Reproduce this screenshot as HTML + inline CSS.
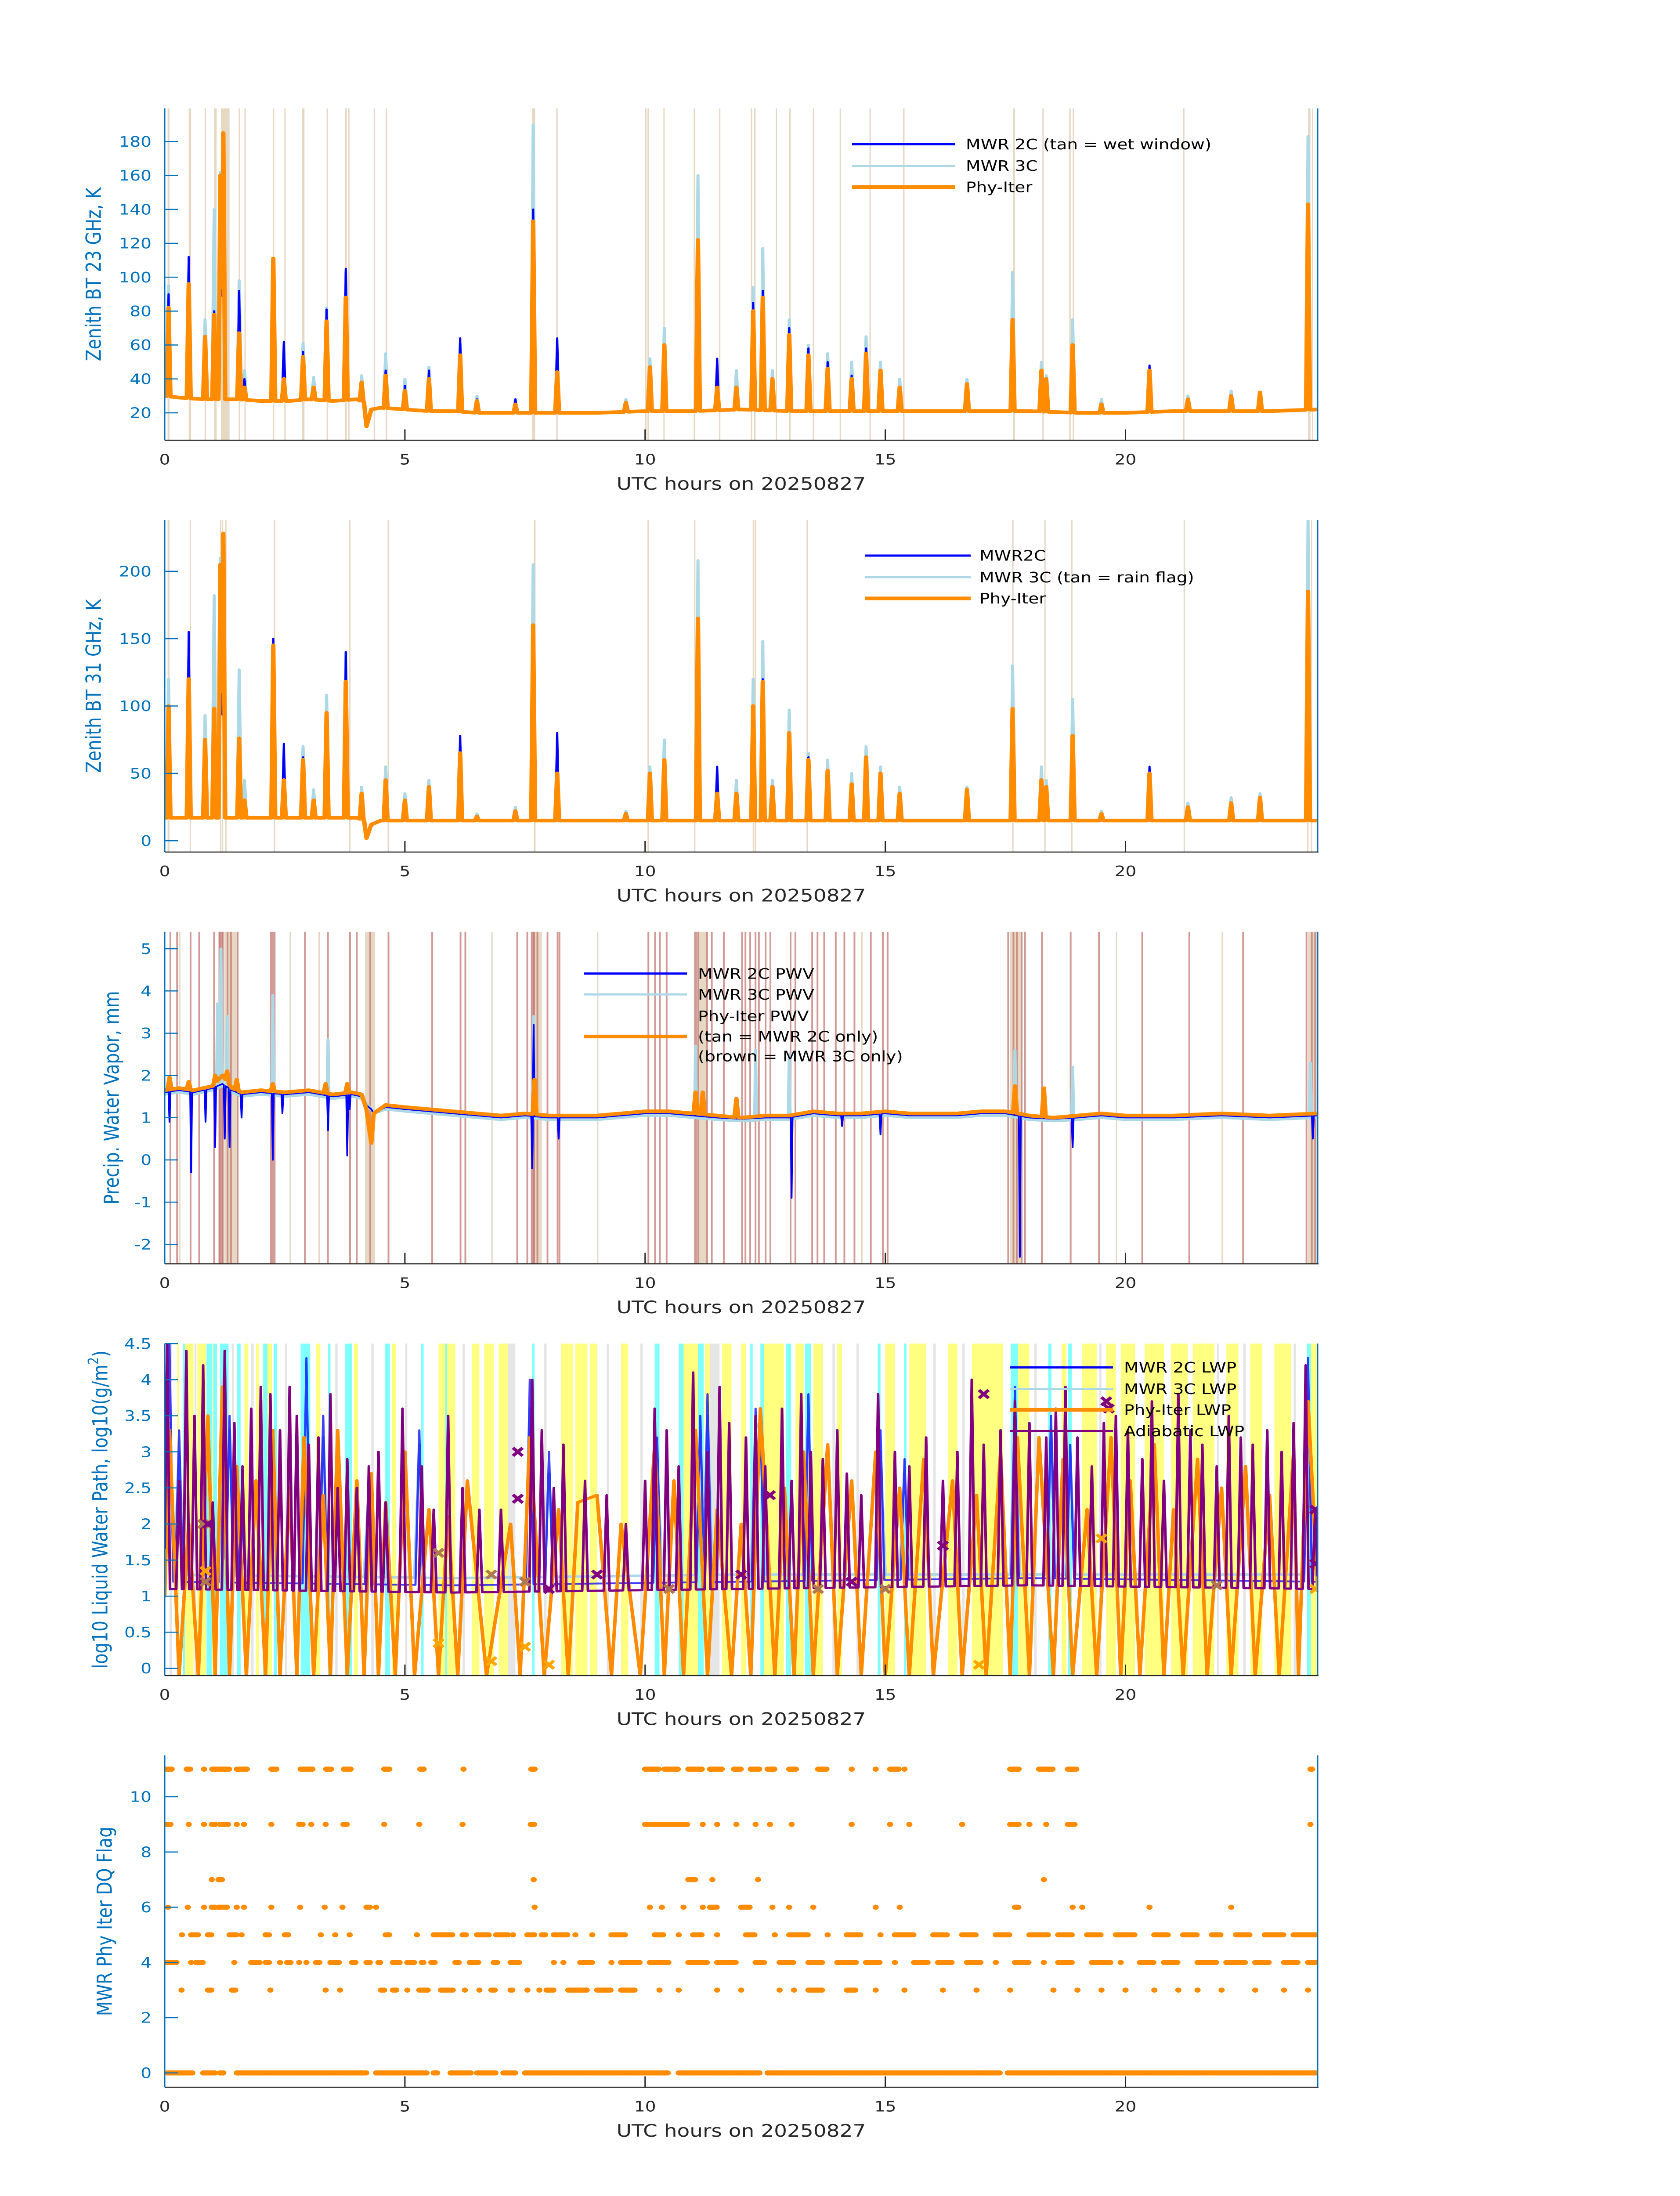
<!DOCTYPE html>
<html><head><meta charset="utf-8"><style>
html,body{margin:0;padding:0;background:#fff;width:100%;height:100%;overflow:hidden}
svg{display:block;position:absolute;left:0;top:0;width:100vw;height:100vh}
text{font-family:"DejaVu Sans","Liberation Sans",sans-serif}
</style></head><body>
<svg id="fig" xmlns="http://www.w3.org/2000/svg" viewBox="0 0 3825 6000" preserveAspectRatio="none">
<rect x="0" y="0" width="3825" height="6000" fill="#fff"/>
</svg>
<script>
// ---------- shared data ----------
const pkT=[0.08,0.5,0.84,1.03,1.16,1.22,1.55,1.66,2.26,2.48,2.88,3.1,3.37,3.77,4.1,4.6,5.0,5.5,6.15,6.5,7.3,7.67,8.17,9.6,10.1,10.4,11.1,11.5,11.9,12.25,12.45,12.65,13.0,13.4,13.8,14.3,14.6,14.9,15.3,16.7,17.65,18.25,18.35,18.9,19.5,20.5,21.3,22.2,22.8,23.8];
// panel 1: 23 GHz
const bt23T=[0,0.3,0.8,1.5,2.0,2.6,3.0,3.5,4.0,4.15,4.2,4.3,4.5,5.0,5.5,6.0,6.5,7.0,8,9,10,11,12,13,14,15,16,17,18,19,20,21,22,23,24];
const bt23Base=[30,29,28,28,27,27,28,27,28,26,12,22,23,22,21,21,20,20,20,20,21,21,22,21,21,21,21,21,21,20,20,21,21,21,22];
const bt23Orange=[82,96,65,78,160,185,67,35,111,40,53,35,74,88,38,42,33,40,54,27,25,133,44,26,47,60,122,35,35,80,88,40,66,54,46,40,55,45,35,37,75,45,40,60,25,45,28,30,32,143];
const bt23_2C=[90,112,65,80,160,150,92,40,111,62,56,35,81,105,38,45,36,45,64,28,28,140,64,26,47,60,122,52,35,85,92,40,70,58,50,42,58,45,35,37,75,45,40,60,25,48,28,30,32,143];
const bt23_3C=[95,103,75,140,162,170,98,45,110,42,61,41,82,103,42,55,40,47,60,30,28,190,58,28,52,70,160,38,45,94,117,45,75,60,55,50,65,50,40,40,103,50,42,75,28,45,30,33,32,183];
const tan23=[[0.06,0.1],[0.5,0.55],[0.83,0.86],[1.03,1.08],[1.17,1.35],[1.54,1.57],[1.66,1.68],[2.25,2.28],[2.49,2.5],[2.86,2.91],[3.37,3.39],[3.75,3.79],[3.82,3.84],[4.35,4.36],[4.6,4.63],[7.65,7.71],[8.15,8.18],[10.0,10.03],[10.05,10.07],[10.38,10.4],[11.01,11.04],[11.54,11.56],[12.2,12.23],[12.27,12.3],[12.72,12.74],[13.0,13.03],[13.49,13.51],[14.05,14.07],[14.67,14.69],[15.37,15.4],[17.66,17.7],[18.27,18.3],[18.83,18.86],[18.9,18.92],[21.2,21.22],[23.8,23.85],[23.88,23.9]];
// panel 2: 31 GHz
const bt31T=[0,0.5,1.5,2,3,4,4.15,4.2,4.3,4.5,5,6,8,10,12,14,16,18,20,22,24];
const bt31Base=[17,17,17,17,17,17,15,2,12,15,15,15,15,15,15,15,15,15,15,15,15];
const bt31Orange=[100,120,75,98,205,228,76,30,145,45,60,30,95,118,35,45,30,40,65,18,22,160,50,20,50,60,165,35,35,100,118,40,80,60,52,42,62,50,35,38,98,45,40,78,20,50,25,28,32,185];
const bt31_2C=[100,155,75,98,205,170,76,30,150,72,62,30,95,140,35,45,30,40,78,18,22,160,80,20,50,60,165,55,35,100,120,40,80,62,52,42,62,50,35,38,98,45,40,78,20,55,25,28,32,185];
const bt31_3C=[120,135,93,182,210,200,127,45,145,40,70,38,108,140,40,55,35,45,70,20,25,205,60,22,55,75,208,40,45,120,148,45,97,65,60,50,70,55,40,40,130,55,45,105,22,50,28,32,35,240];
const tan31=[[0.06,0.1],[0.52,0.54],[1.15,1.16],[1.19,1.2],[1.26,1.27],[2.27,2.28],[3.84,3.85],[4.64,4.65],[7.68,7.72],[10.05,10.06],[11.02,11.03],[12.24,12.25],[12.28,12.29],[13.36,13.38],[17.64,17.67],[18.31,18.32],[18.87,18.88],[21.21,21.22],[23.78,23.81],[23.86,23.87]];
// panel 3: PWV
const pwvT=[0,0.3,0.6,1.0,1.2,1.4,1.6,2.0,2.5,3.0,3.5,3.9,4.1,4.2,4.3,4.35,4.6,5.0,5.5,6.0,6.5,7.0,7.5,8.0,8.5,9,9.5,10,10.5,11,11.5,12,12.5,13,13.5,14,14.5,15,15.5,16,16.5,17,17.5,18,18.5,19,19.5,20,20.5,21,22,23,24];
const pwvOrange=[1.65,1.7,1.65,1.75,2.0,1.7,1.6,1.65,1.6,1.65,1.55,1.6,1.55,1.2,0.4,1.1,1.3,1.25,1.2,1.15,1.1,1.05,1.1,1.05,1.05,1.05,1.1,1.15,1.15,1.1,1.05,1.0,1.05,1.05,1.15,1.1,1.1,1.15,1.1,1.1,1.1,1.15,1.15,1.05,1.0,1.05,1.1,1.05,1.05,1.05,1.1,1.05,1.1];
const pwv2C=[1.6,1.65,1.6,1.7,1.8,1.65,1.55,1.6,1.55,1.6,1.5,1.55,1.5,1.3,1.2,1.1,1.25,1.2,1.15,1.1,1.05,1.0,1.05,1.0,1.0,1.0,1.05,1.1,1.1,1.05,1.0,0.97,1.0,1.0,1.1,1.05,1.05,1.1,1.05,1.05,1.05,1.1,1.1,1.0,0.97,1.0,1.05,1.0,1.0,1.0,1.05,1.0,1.05];
const pwv3C=[1.55,1.6,1.55,1.65,1.75,1.6,1.5,1.55,1.5,1.55,1.45,1.5,1.45,1.35,1.2,1.1,1.2,1.15,1.1,1.05,1.0,0.95,1.0,0.95,0.95,0.95,1.0,1.05,1.05,1.0,0.95,0.92,0.95,0.95,1.05,1.0,1.0,1.05,1.0,1.0,1.0,1.05,1.05,0.95,0.92,0.95,1.0,0.95,0.95,0.95,1.0,0.95,1.0];
const pwvOrangeSpkT=[0.1,0.5,1.05,1.3,1.5,2.25,3.35,3.8,7.7,11.05,11.2,11.9,17.7,18.3];
const pwvOrangeSpkV=[1.95,1.85,2.0,2.1,1.9,1.8,1.8,1.8,1.9,1.6,1.6,1.45,1.75,1.7];
const pwv2CSpkT=[0.1,0.55,0.85,1.05,1.25,1.35,1.6,2.25,2.45,3.4,3.8,3.85,7.65,7.68,8.2,13.05,14.1,14.9,17.8,18.9,23.9];
const pwv2CSpkV=[0.9,-0.3,0.9,0.3,0.5,0.3,1.0,0.0,1.1,0.7,0.1,1.2,-0.2,3.2,0.5,-0.9,0.8,0.6,-2.3,0.3,0.5];
const pwv3CSpkT=[1.1,1.17,1.3,2.25,3.4,7.68,11.05,12.3,13.0,17.7,18.9,23.85];
const pwv3CSpkV=[3.7,5.0,3.4,3.9,2.85,3.4,2.7,2.6,2.5,2.6,2.2,2.3];
const brownLines=[0.1,0.24,0.52,0.7,1.01,1.12,1.19,1.29,1.36,1.5,2.27,2.9,3.38,3.84,3.98,4.26,4.64,5.55,6.14,6.24,7.32,7.53,7.67,7.74,7.95,8.16,8.2,10.05,10.19,10.29,10.43,11.09,11.27,11.37,11.62,12.0,12.07,12.17,12.28,12.35,12.49,12.59,13.01,13.11,13.46,13.57,13.71,13.95,14.13,14.34,14.68,14.93,15.03,17.54,17.65,17.72,17.82,17.89,18.24,18.84,19.43,20.33,21.31,22.43,23.75,23.86,23.93,24.0];
const brownWide=[[1.13,1.22],[2.19,2.27],[7.62,7.7],[11.02,11.08]];
const tanPwv=[[1.24,1.52],[4.17,4.38],[7.7,7.85],[11.08,11.3],[17.6,17.85],[23.8,24],[0.3,0.32],[2.6,2.62],[3.2,3.22],[6.8,6.82],[9.0,9.02],[14.5,14.52],[19.8,19.82],[22.0,22.02]];
// panel 4: LWP
const cyanBands=[[0.38,0.42],[0.87,0.98],[1.01,1.09],[1.15,1.33],[1.5,1.58],[2.05,2.14],[2.27,2.34],[2.83,3.03],[3.4,3.45],[3.75,3.9],[4.59,4.69],[5.34,5.39],[5.84,5.87],[7.65,7.7],[10.2,10.3],[10.7,10.8],[11.1,11.22],[12.19,12.24],[12.4,12.47],[12.93,13.04],[13.33,13.45],[14.84,14.9],[15.39,15.44],[17.61,17.76],[18.39,18.46],[18.8,18.88],[23.78,23.86]];
const yellowBands=[[0.26,0.29],[0.42,0.6],[0.68,0.86],[0.9,1.0],[1.21,1.24],[1.66,1.74],[1.9,1.96],[2.04,2.23],[3.15,3.24],[3.94,4.02],[4.73,4.82],[5.7,6.05],[6.4,6.55],[6.65,6.85],[6.95,7.15],[8.25,8.5],[8.55,8.8],[8.85,9.0],[9.5,9.65],[10.8,11.1],[11.25,11.35],[11.6,11.8],[12.0,12.1],[12.48,12.89],[13.13,13.3],[13.5,13.7],[14.0,14.1],[15.0,15.2],[15.5,15.85],[16.3,16.5],[16.8,17.45],[17.76,18.0],[18.67,18.77],[19.1,19.4],[19.6,19.8],[19.9,20.2],[20.4,20.8],[20.95,21.3],[21.4,21.85],[22.1,22.35],[22.6,22.85],[23.1,23.45],[23.86,24]];
const greyBands=[[0.1,0.15],[0.62,0.66],[1.4,1.44],[1.8,1.85],[2.5,2.55],[3.55,3.6],[4.3,4.35],[5.0,5.05],[6.2,6.25],[7.15,7.3],[7.9,7.95],[9.2,9.25],[9.9,9.95],[11.35,11.55],[12.7,12.75],[13.9,13.95],[14.4,14.45],[16.0,16.05],[16.6,16.65],[18.1,18.15],[19.45,19.5],[21.9,21.95],[22.45,22.5],[23.5,23.55]];
const adiabBaseT=[0,6,12,18,24];
const adiabBase=[1.1,1.05,1.1,1.15,1.1];
const adiabPkT=[0.05,0.3,0.45,0.62,0.8,1.0,1.25,1.45,1.62,1.8,2.0,2.2,2.4,2.6,2.75,3.0,3.2,3.45,3.6,3.8,4.0,4.25,4.45,4.6,4.95,5.35,5.6,5.9,6.2,6.55,7.0,7.65,7.85,8.1,8.3,8.75,9.2,9.6,10.0,10.2,10.45,10.7,11.0,11.3,11.55,11.75,12.1,12.3,12.5,12.85,13.05,13.25,13.45,13.7,14.0,14.2,14.5,14.85,15.2,15.5,15.85,16.2,16.5,16.8,17.05,17.4,17.7,18.0,18.35,18.55,18.75,19.0,19.3,19.55,19.8,20.05,20.35,20.55,20.8,21.1,21.35,21.6,21.9,22.15,22.4,22.65,22.95,23.25,23.5,23.75,23.95];
const adiabPkV=[4.5,2.6,4.4,3.5,4.2,2.3,4.4,3.4,2.8,3.6,3.9,3.8,3.3,3.9,3.5,3.1,3.2,3.8,2.5,2.9,2.5,2.8,3.0,2.3,3.6,2.8,2.2,3.5,2.5,2.2,2.2,4.0,3.3,2.5,3.1,2.6,2.4,2.0,2.6,3.6,3.3,2.8,4.1,3.0,3.9,3.4,3.2,3.5,2.8,3.6,2.6,3.8,3.0,2.9,3.3,2.7,2.4,3.8,3.0,2.8,3.2,2.6,3.0,4.0,3.1,3.3,3.7,3.4,3.2,3.6,3.9,3.2,2.8,3.4,3.5,3.3,2.9,3.7,2.6,3.8,3.3,3.1,2.8,3.5,3.2,3.1,3.3,3.0,3.4,4.2,2.2];
const lwpBaseT=[0,6,12,18,24];
const lwp2CBase=[1.2,1.15,1.2,1.25,1.2];
const lwp3CBase=[1.3,1.25,1.3,1.3,1.3];
const lwp2CPkT=[0.1,0.3,1.2,1.35,1.6,2.95,3.3,4.25,5.3,7.6,8.0,10.25,11.15,11.3,12.3,12.4,13.4,14.9,15.4,17.7,18.45,18.85,23.8];
const lwp2CPkV=[4.5,3.3,3.8,3.5,2.3,4.3,3.5,2.7,3.3,4.0,3.0,3.2,3.5,3.8,3.6,3.5,3.8,3.3,2.9,3.9,3.5,3.1,4.3];
const lwp3CPkV=[3.4,3.0,4.0,3.3,2.2,3.1,3.2,2.5,3.1,3.6,2.7,2.9,3.3,3.5,3.4,3.3,3.2,3.0,2.7,3.6,3.3,2.9,3.8];
const lwpOrangeT=[0,0.1,0.3,0.5,0.7,0.9,1.05,1.2,1.35,1.5,1.7,1.9,2.1,2.25,2.4,2.6,2.75,2.9,3.1,3.3,3.45,3.6,3.8,4.0,4.15,4.3,4.45,4.6,4.8,5.0,5.2,5.5,5.7,5.9,6.1,6.3,6.7,7.2,7.4,7.6,7.9,8.2,8.4,8.6,9.0,9.3,9.5,9.9,10.2,10.4,10.6,10.8,11.05,11.3,11.5,11.8,12.0,12.2,12.4,12.7,12.9,13.1,13.3,13.5,13.8,14.0,14.3,14.5,14.8,15.0,15.3,15.5,15.8,16.0,16.4,16.6,16.9,17.1,17.4,17.6,17.75,18.0,18.2,18.5,18.7,18.9,19.2,19.4,19.7,19.9,20.1,20.3,20.6,20.8,21.0,21.2,21.5,21.7,22.0,22.2,22.5,22.7,23.0,23.2,23.5,23.6,23.8,24];
const lwpOrangeV=[1.0,3.3,-0.1,2.0,-0.1,3.5,-0.1,3.9,-0.1,2.8,-0.1,2.6,-0.1,3.3,-0.1,2.5,-0.1,3.2,-0.1,2.4,-0.1,3.3,-0.1,2.6,-0.1,2.7,-0.1,2.3,-0.1,3.0,-0.1,2.2,-0.1,2.1,-0.1,2.6,-0.1,2.0,-0.1,3.2,-0.1,2.2,-0.1,2.3,2.4,-0.1,2.0,-0.1,3.1,-0.1,2.6,-0.1,3.3,-0.1,2.2,-0.1,2.0,-0.1,3.6,-0.1,2.5,-0.1,3.0,-0.1,3.1,-0.1,2.6,-0.1,3.0,-0.1,2.5,-0.1,2.9,-0.1,2.6,-0.1,2.4,-0.1,3.0,-0.1,3.2,-0.1,3.2,-0.1,2.9,-0.1,2.2,-0.1,3.2,-0.1,2.6,-0.1,3.1,-0.1,2.2,-0.1,2.9,-0.1,2.5,-0.1,2.8,-0.1,2.4,-0.1,3.0,-0.1,3.7,1.1];
const xPurpleT=[7.35,7.35,17.05,19.6,19.65,23.95,23.95,12.6,12.0,9.0,8.0,14.3,16.2,0.9];
const xPurpleV=[3.0,2.35,3.8,3.7,3.6,2.2,1.45,2.4,1.3,1.3,1.1,1.2,1.7,2.0];
const xBrownT=[0.8,0.85,5.7,6.8,7.5,10.5,13.6,15.0,21.9];
const xBrownV=[2.0,1.2,1.6,1.3,1.2,1.1,1.1,1.1,1.15];
const xOrangeT=[0.85,5.7,6.8,7.5,19.5,16.95,23.95,8.0];
const xOrangeV=[1.35,0.35,0.1,0.3,1.8,0.05,1.1,0.05];
// panel 5: DQ flag levels and runs (hours)
const dqLevels=[0,3,4,5,6,7,9,11];
const dq11=[[0.04,0.17],[0.46,0.55],[0.82,0.82],[0.99,1.35],[1.5,1.72],[2.22,2.35],[2.83,3.08],[3.36,3.47],[3.73,3.9],[4.57,4.7],[5.32,5.41],[6.22,6.22],[7.63,7.72],[10.0,10.3],[10.4,10.7],[10.9,11.2],[11.35,11.6],[11.85,12.0],[12.2,12.4],[12.55,12.7],[13.0,13.15],[13.6,13.8],[14.3,14.3],[14.8,14.8],[15.1,15.3],[15.4,15.4],[17.6,17.8],[18.2,18.5],[18.8,19.0],[23.85,23.9]];
const dq9=[[0.05,0.12],[0.5,0.5],[0.82,0.82],[0.98,1.05],[1.15,1.27],[1.32,1.32],[1.5,1.5],[1.65,1.65],[2.22,2.22],[2.8,2.9],[3.05,3.05],[3.35,3.35],[3.72,3.82],[4.57,4.57],[5.3,5.3],[6.2,6.2],[7.62,7.7],[10.0,10.9],[11.2,11.2],[11.5,11.5],[11.9,11.9],[12.3,12.3],[12.6,12.6],[13.05,13.05],[14.3,14.3],[15.1,15.1],[15.5,15.5],[16.6,16.6],[17.6,17.8],[18.0,18.0],[18.35,18.35],[18.8,18.95],[23.85,23.85]];
const dq7=[[0.98,0.98],[1.12,1.2],[7.68,7.68],[10.9,11.05],[11.4,11.4],[12.35,12.35],[18.3,18.3]];
const dq6=[[0.07,0.07],[0.48,0.48],[0.82,0.82],[0.98,1.05],[1.12,1.3],[1.5,1.5],[1.65,1.65],[2.22,2.22],[2.82,2.82],[3.33,3.33],[3.7,3.7],[4.2,4.3],[4.4,4.4],[7.7,7.7],[10.1,10.1],[10.35,10.35],[10.8,10.8],[11.2,11.2],[11.35,11.5],[12.0,12.2],[12.65,12.65],[13.0,13.0],[13.5,13.5],[14.8,14.8],[15.3,15.3],[17.7,17.8],[18.9,18.9],[19.1,19.1],[20.5,20.5],[22.2,22.2]];
const dq5=[[0.36,0.36],[0.55,0.72],[0.9,1.0],[1.35,1.5],[1.6,1.6],[2.1,2.2],[2.5,2.6],[3.25,3.25],[3.55,3.55],[3.85,3.85],[4.6,4.68],[5.25,5.25],[5.6,6.0],[6.2,6.3],[6.5,6.75],[6.9,7.15],[7.25,7.25],[7.55,7.7],[7.85,7.95],[8.1,8.4],[8.55,8.55],[8.9,8.9],[9.3,9.6],[10.2,10.4],[10.7,10.7],[11.0,11.2],[11.5,11.5],[12.1,12.3],[12.7,12.7],[13.0,13.4],[13.8,13.8],[14.2,14.5],[14.9,14.9],[15.2,15.6],[16.0,16.3],[16.6,16.9],[17.3,17.6],[18.0,18.4],[18.6,18.9],[19.2,19.5],[19.8,20.2],[20.6,20.9],[21.2,21.5],[21.8,22.0],[22.3,22.6],[22.9,23.3],[23.5,24]];
const dq4=[[0.0,0.25],[0.55,0.55],[0.65,0.8],[1.45,1.45],[1.8,2.0],[2.1,2.2],[2.4,2.4],[2.55,2.65],[2.8,2.8],[2.95,2.95],[3.15,3.22],[3.45,3.65],[3.9,4.0],[4.2,4.3],[4.45,4.5],[4.75,4.9],[5.05,5.2],[5.35,5.4],[5.55,5.65],[6.05,6.15],[6.35,6.55],[6.85,6.95],[7.2,7.4],[8.1,8.1],[8.3,8.3],[8.65,8.9],[9.3,9.3],[9.5,9.9],[10.1,10.5],[10.9,11.3],[11.5,11.9],[12.3,12.5],[12.8,13.1],[13.4,13.7],[14.0,14.4],[14.6,14.9],[15.2,15.2],[15.6,15.9],[16.1,16.4],[16.7,17.0],[17.3,17.3],[17.7,18.0],[18.3,18.3],[18.6,18.9],[19.3,19.7],[19.9,19.9],[20.3,20.6],[20.8,21.1],[21.5,21.9],[22.1,22.5],[22.7,23.0],[23.3,23.6],[23.8,24]];
const dq3=[[0.35,0.35],[0.9,1.0],[1.4,1.5],[2.2,2.2],[3.35,3.35],[3.65,3.65],[4.5,4.6],[4.75,4.85],[5.05,5.05],[5.3,5.5],[5.75,6.0],[6.25,6.25],[6.55,6.55],[6.8,6.9],[7.2,7.25],[7.55,7.55],[7.8,7.8],[7.95,8.1],[8.4,8.8],[9.0,9.3],[9.5,9.8],[10.3,10.3],[10.7,10.7],[11.5,11.5],[12.0,12.0],[12.8,12.8],[13.1,13.1],[13.4,13.7],[14.2,14.4],[14.8,14.8],[15.4,15.4],[16.2,16.2],[16.9,16.9],[17.6,17.6],[18.5,18.5],[19.0,19.0],[19.5,19.5],[20.0,20.0],[20.6,20.6],[21.1,21.1],[21.5,21.5],[22.0,22.0],[22.7,22.7],[23.3,23.3],[23.8,23.8]];
const dq0=[[0.05,0.6],[0.8,1.05],[1.15,1.25],[1.5,4.2],[4.4,5.45],[5.6,5.7],[5.95,6.4],[6.5,6.9],[7.05,7.3],[7.5,10.5],[10.7,12.4],[12.55,17.4],[17.55,24]];

// ---------- helpers ----------
const NS='http://www.w3.org/2000/svg';
const svg=document.getElementById('fig');
const X0=375,X1=3000,H=907;
const TOPS=[296,1421,2546,3671,4796];
function sx(h){return X0+h/24*(X1-X0);}
function mk(tag,attrs,parent){const e=document.createElementNS(NS,tag);for(const k in attrs)e.setAttribute(k,attrs[k]);(parent||svg).appendChild(e);return e;}
function interp(T,V,t){if(t<=T[0])return V[0];for(let i=1;i<T.length;i++){if(t<=T[i]){const f=(t-T[i-1])/(T[i]-T[i-1]);return V[i-1]+f*(V[i]-V[i-1]);}}return V[V.length-1];}
function spikeSeries(bT,bV,pT,pV,hw){
  const ts=[];for(let i=0;i<=2400;i++)ts.push(i/100);
  for(const t of pT)ts.push(t);
  ts.sort((a,b)=>a-b);
  return ts.map(t=>{let v=interp(bT,bV,t);for(let i=0;i<pT.length;i++){const d=Math.abs(t-pT[i]);if(d<hw){v+=(1-d/hw)*(pV[i]-interp(bT,bV,pT[i]));}}return [t,v];});
}
function panel(idx,lo,hi){
  const top=TOPS[idx];
  const sy=v=>top+H-(v-lo)/(hi-lo)*H;
  const g=mk('g',{});
  
  
  const cp=mk('clipPath',{id:'clip'+idx},g);
  mk('rect',{x:X0,y:top,width:X1-X0,height:H},cp);
  const plot=mk('g',{'clip-path':'url(#clip'+idx+')'},g);
  
  
  return {top,sy,g,plot,bottom:top+H};
}
function bands(P,list,color,minw,name){
  for(const b of list){
    const x=sx(b[0]);let w=sx(b[1])-x;if(w<minw)w=minw;
    const r=mk('rect',{x:x,y:P.top,width:w,height:H,fill:color},P.plot);
    
    
  }
}
function line(P,pts,color,width,name,op){
  const d=pts.map((p,i)=>(i?'L':'M')+sx(p[0]).toFixed(1)+' '+P.sy(p[1]).toFixed(1)).join('');
  const e=mk('path',{d:d,fill:'none',stroke:color,'stroke-width':width,'stroke-linejoin':'round','stroke-linecap':'round','stroke-opacity':op||1},P.plot);
  
  
}
function axes(P,ticks,labels,ylabel,ylx){
  const bot=P.bottom;
  for(let i=0;i<ticks.length;i++){
    const y=P.sy(ticks[i]);
    const tl=mk('line',{x1:X0,y1:y,x2:X0+30,y2:y,stroke:'#0072bd','stroke-width':3},P.g);
    
    
    const t=mk('text',{x:X0-30,y:y+14,'text-anchor':'end','font-size':39,fill:'#0072bd'},P.g);
    t.textContent=labels[i];
    
    
  }
  const xt=[0,5,10,15,20];
  for(const h of xt){
    if(h>0){const l=mk('line',{x1:sx(h),y1:bot,x2:sx(h),y2:bot-30,stroke:'#262626','stroke-width':3},P.g);
      
      }
    const t=mk('text',{x:sx(h),y:bot+66,'text-anchor':'middle','font-size':39,fill:'#262626'},P.g);
    t.textContent=String(h);
    
    
  }
  const la=mk('line',{x1:X0,y1:P.top,x2:X0,y2:bot,stroke:'#0072bd','stroke-width':3},P.g);
  
  
  const ra=mk('line',{x1:X1,y1:P.top,x2:X1,y2:bot,stroke:'#0072bd','stroke-width':3},P.g);
  
  
  const ba=mk('line',{x1:X0,y1:bot,x2:X1+2,y2:bot,stroke:'#262626','stroke-width':3},P.g);
  
  
  const xl=mk('text',{x:(X0+X1)/2,y:bot+135,'text-anchor':'middle','font-size':47,fill:'#262626'},P.g);
  xl.textContent='UTC hours on 20250827';
  
  
  const cy=P.top+H/2;
  const yl=mk('text',{x:ylx,y:cy,'text-anchor':'middle','font-size':47,fill:'#0072bd',transform:'rotate(-90 '+ylx+' '+cy+')','dominant-baseline':'middle'},P.g);
  
  
  return yl;
}
function legend(P,rows){
  const g=mk('g',{},P.g);
  
  
  for(const r of rows){
    if(r.color){const l=mk('line',{x1:r.x1,y1:r.y,x2:r.x2,y2:r.y,stroke:r.color,'stroke-width':r.w},g);
      
      }
    if(r.text){const t=mk('text',{x:r.tx,y:r.y+14,'font-size':39,fill:'#000'},g);
      t.textContent=r.text;
      
      }
  }
}
function cross(P,t,v,color){
  const x=sx(t),y=P.sy(v),s=11;
  const p=mk('path',{d:`M${x-s} ${y-s}L${x+s} ${y+s}M${x-s} ${y+s}L${x+s} ${y-s}`,stroke:color,'stroke-width':8,fill:'none'},P.plot);
  
  
}

// ---------- panel 1 ----------
{
  const P=panel(0,3.8,199.6);
  bands(P,tan23,'#e6d8c3',3,'wet-window-band');
  line(P,spikeSeries(bt23T,bt23Base,pkT,bt23_3C,0.045),'#add8e6',7,'mwr3c-line');
  line(P,spikeSeries(bt23T,bt23Base,pkT,bt23_2C,0.04),'#0000ff',5,'mwr2c-line');
  line(P,spikeSeries(bt23T,bt23Base,pkT,bt23Orange,0.04),'#ff8c00',10,'phy-iter-line');
  const yl=axes(P,[20,40,60,80,100,120,140,160,180],['20','40','60','80','100','120','140','160','180'],'',217);
  yl.textContent='Zenith BT 23 GHz, K';
  legend(P,[{x1:1940,x2:2175,y:394,color:'#0000ff',w:6,tx:2199,text:'MWR 2C (tan = wet window)'},{x1:1940,x2:2175,y:453,color:'#add8e6',w:6,tx:2199,text:'MWR 3C'},{x1:1940,x2:2175,y:511,color:'#ff8c00',w:10,tx:2199,text:'Phy-Iter'}]);
}
// ---------- panel 2 ----------
{
  const P=panel(1,-8.4,238);
  bands(P,tan31,'#e6d8c3',3,'rain-flag-band');
  line(P,spikeSeries(bt31T,bt31Base,pkT,bt31_3C,0.045),'#add8e6',7,'mwr3c-line');
  line(P,spikeSeries(bt31T,bt31Base,pkT,bt31_2C,0.04),'#0000ff',5,'mwr2c-line');
  line(P,spikeSeries(bt31T,bt31Base,pkT,bt31Orange,0.04),'#ff8c00',10,'phy-iter-line');
  const yl=axes(P,[0,50,100,150,200],['0','50','100','150','200'],'',217);
  yl.textContent='Zenith BT 31 GHz, K';
  legend(P,[{x1:1970,x2:2210,y:1518,color:'#0000ff',w:6,tx:2230,text:'MWR2C'},{x1:1970,x2:2210,y:1577,color:'#add8e6',w:6,tx:2230,text:'MWR 3C (tan = rain flag)'},{x1:1970,x2:2210,y:1635,color:'#ff8c00',w:10,tx:2230,text:'Phy-Iter'}]);
}
// ---------- panel 3 ----------
{
  const P=panel(2,-2.46,5.4);
  bands(P,tanPwv,'#e6d8c3',3,'mwr2c-only-band');
  bands(P,brownLines.map(t=>[t,t]),'rgba(195,120,115,0.75)',4,'mwr3c-only-line');
  bands(P,brownWide,'rgba(195,120,115,0.75)',4,'mwr3c-only-band');
  line(P,spikeSeries(pwvT,pwv3C,pwv3CSpkT,pwv3CSpkV,0.02),'#add8e6',7,'mwr3c-pwv-line');
  line(P,spikeSeries(pwvT,pwv2C,pwv2CSpkT,pwv2CSpkV,0.02),'#0000ff',4,'mwr2c-pwv-line');
  line(P,spikeSeries(pwvT,pwvOrange,pwvOrangeSpkT,pwvOrangeSpkV,0.04),'#ff8c00',10,'phy-iter-pwv-line');
  const yl=axes(P,[-2,-1,0,1,2,3,4,5],['-2','-1','0','1','2','3','4','5'],'',258);
  yl.textContent='Precip. Water Vapor, mm';
  legend(P,[{x1:1330,x2:1564,y:2660,color:'#0000ff',w:6,tx:1589,text:'MWR 2C PWV'},{x1:1330,x2:1564,y:2717,color:'#add8e6',w:6,tx:1589,text:'MWR 3C PWV'},{y:2776,tx:1589,text:'Phy-Iter PWV'},{x1:1330,x2:1564,y:2832,color:'#ff8c00',w:10,tx:1589,text:'(tan = MWR 2C only)'},{y:2886,tx:1589,text:'(brown = MWR 3C only)'}]);
}
// ---------- panel 4 ----------
{
  const P=panel(3,-0.1,4.5);
  bands(P,greyBands,'#e5e5e5',4,'grey-band');
  bands(P,yellowBands,'#ffff80',4,'yellow-band');
  bands(P,cyanBands,'#80ffff',4,'cyan-band');
  line(P,spikeSeries(lwpBaseT,lwp3CBase,lwp2CPkT,lwp3CPkV,0.1),'#add8e6',7,'mwr3c-lwp-line');
  line(P,spikeSeries(lwpBaseT,lwp2CBase,lwp2CPkT,lwp2CPkV,0.08),'#0000ff',5,'mwr2c-lwp-line',0.75);
  line(P,lwpOrangeT.map((t,i)=>[t,lwpOrangeV[i]]),'#ff8c00',8,'phy-iter-lwp-line');
  line(P,spikeSeries(adiabBaseT,adiabBase,adiabPkT,adiabPkV,0.06),'#800080',6,'adiabatic-lwp-line');
  for(let i=0;i<xBrownT.length;i++)cross(P,xBrownT[i],xBrownV[i],'#b07850');
  for(let i=0;i<xOrangeT.length;i++)cross(P,xOrangeT[i],xOrangeV[i],'#ffa500');
  for(let i=0;i<xPurpleT.length;i++)cross(P,xPurpleT[i],xPurpleV[i],'#800080');
  const yl=axes(P,[0,0.5,1,1.5,2,2.5,3,3.5,4,4.5],['0','0.5','1','1.5','2','2.5','3','3.5','4','4.5'],'',232);
  yl.textContent='log10 Liquid Water Path, log10(g/m';
  const sup=mk('tspan',{'baseline-shift':'super','font-size':32},yl);sup.textContent='2';
  const cl=mk('tspan',{},yl);cl.textContent=')';
  legend(P,[{x1:2300,x2:2534,y:3736,color:'#0000ff',w:6,tx:2559,text:'MWR 2C LWP'},{x1:2300,x2:2534,y:3795,color:'#add8e6',w:6,tx:2559,text:'MWR 3C LWP'},{x1:2300,x2:2534,y:3852,color:'#ff8c00',w:10,tx:2559,text:'Phy-Iter LWP'},{x1:2300,x2:2534,y:3910,color:'#800080',w:6,tx:2559,text:'Adiabatic LWP'}]);
}
// ---------- panel 5 ----------
{
  const P=panel(4,-0.52,11.5);
  const runs=[dq0,dq3,dq4,dq5,dq6,dq7,dq9,dq11];
  for(let k=0;k<runs.length;k++){
    const y=P.sy(dqLevels[k]);
    for(const r of runs[k]){
      for(let t=r[0];t<=r[1]+1e-6;t+=0.035){
        const c=mk('circle',{cx:sx(t),cy:y,r:7,fill:'#ff8c00'},P.plot);
        
        
      }
    }
  }
  const yl=axes(P,[0,2,4,6,8,10],['0','2','4','6','8','10'],'',242);
  yl.textContent='MWR Phy Iter DQ Flag';
}
</script>
</body></html>
